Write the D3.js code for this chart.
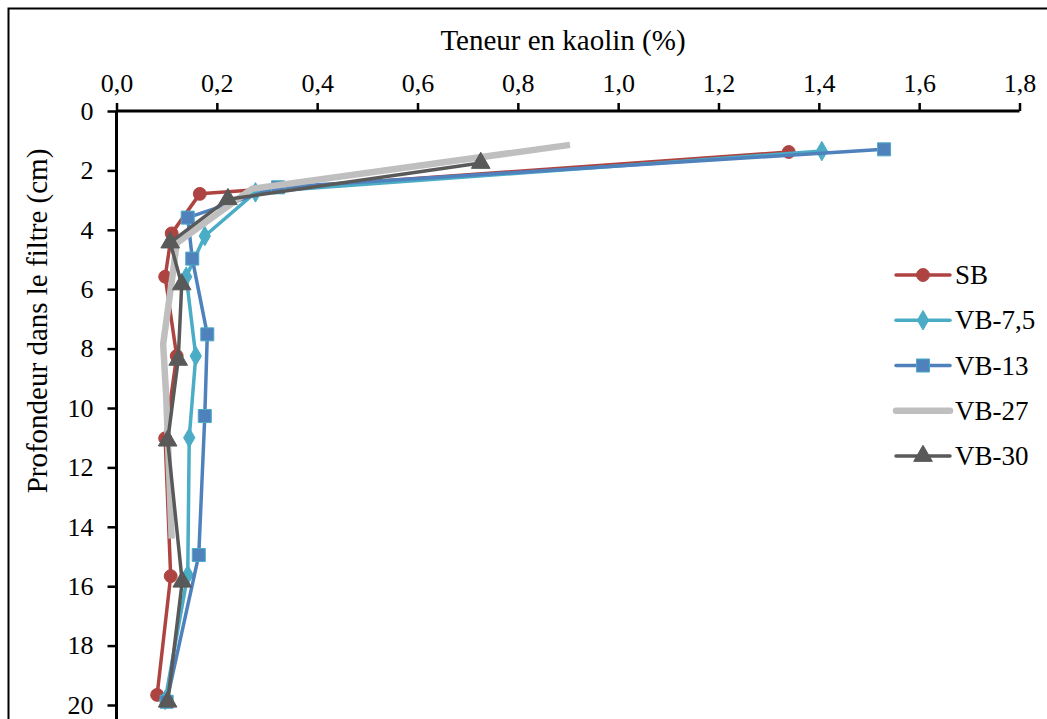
<!DOCTYPE html>
<html><head><meta charset="utf-8">
<script src="https://cdn.jsdelivr.net/npm/d3@7"></script>
<style>body{margin:0;background:#fff}svg{display:block}
svg#c text.ser{font-family:'Liberation Serif',serif !important;fill:#000}
</style>
</head><body><svg id="c" width="1047" height="719"></svg>
<script>
const xTicks = [0, 0.2, 0.4, 0.6, 0.8, 1.0, 1.2, 1.4, 1.6, 1.8];
const yTicks = [0, 2, 4, 6, 8, 10, 12, 14, 16, 18, 20];
const seriesNames = ["SB", "VB-7,5", "VB-13", "VB-27", "VB-30"];
const depthSB = [1.38, 2.79, 4.12, 5.58, 8.25, 11.02, 15.66, 19.66];
const kaolinSB = [1.340, 0.166, 0.110, 0.097, 0.120, 0.097, 0.108, 0.081];
const depthVB75 = [1.35, 2.74, 4.21, 5.58, 8.25, 11.0, 15.62, 19.83];
const kaolinVB75 = [1.406, 0.277, 0.176, 0.139, 0.158, 0.145, 0.142, 0.097];
const depthVB13 = [1.29, 2.57, 3.59, 4.97, 7.52, 10.27, 14.95, 19.89];
const kaolinVB13 = [1.530, 0.322, 0.142, 0.151, 0.181, 0.176, 0.164, 0.100];
const depthVB27 = [1.14, 2.62, 4.45, 5.5, 7.85, 9.58, 14.4];
const kaolinVB27 = [0.904, 0.27, 0.12, 0.112, 0.093, 0.099, 0.110];
const depthVB30 = [1.75, 2.97, 4.43, 5.84, 8.38, 11.1, 15.85, 19.89];
const kaolinVB30 = [0.726, 0.222, 0.107, 0.130, 0.123, 0.102, 0.131, 0.102];

const colors = ["#AE4441", "#4BACC6", "#4F81BD", "#BFBFBF", "#595959"];
const widths = [3.5, 3.5, 3.5, 6.5, 3.5];
const markers = ["circle", "diamond", "square", null, "triangle"];
const data = [
  d3.zip(kaolinSB, depthSB), d3.zip(kaolinVB75, depthVB75), d3.zip(kaolinVB13, depthVB13),
  d3.zip(kaolinVB27, depthVB27), d3.zip(kaolinVB30, depthVB30)
];

const svg = d3.select("#c");
svg.append("rect").attr("x", 8.5).attr("y", 8.5).attr("width", 1045).attr("height", 720)
  .attr("fill", "none").attr("stroke", "#000").attr("stroke-width", 2);

const x = d3.scaleLinear().domain([0, 1.8]).range([116.5, 1019.5]);
const y = d3.scaleLinear().domain([0, 20]).range([111, 705]);
const fmt = d => d3.format(".1f")(d).replace(".", ",");

const xa = svg.append("g").attr("transform", "translate(0,111)")
  .call(d3.axisTop(x).tickValues(xTicks).tickFormat(fmt).tickSize(8).tickPadding(11));
const ya = svg.append("g").attr("transform", "translate(116.5,0)")
  .call(d3.axisLeft(y).tickValues(yTicks).tickFormat(d3.format("d")).tickSize(9).tickPadding(14));
[xa, ya].forEach(a => {
  a.attr("font-family", null).attr("font-size", null);
  a.select(".domain").attr("stroke-width", 3);
  a.selectAll(".tick line").attr("stroke-width", 2.5);
  a.selectAll("text").attr("class", "ser").attr("fill", "#000").attr("font-size", 26);
});
ya.select(".domain").attr("d", "M0,111V720");
xa.select(".domain").attr("d", "M116.5,0H1019.5");

svg.append("text").attr("class", "ser").attr("x", 563).attr("y", 50).attr("text-anchor", "middle")
  .attr("font-size", 29).text("Teneur en kaolin (%)");
svg.append("text").attr("class", "ser").attr("transform", "translate(47,321) rotate(-90)").attr("text-anchor", "middle")
  .attr("font-size", 29).text("Profondeur dans le filtre (cm)");

const symType = {circle: d3.symbolCircle, diamond: d3.symbolDiamond, square: d3.symbolSquare, triangle: d3.symbolTriangle};
const symSize = {circle: 130, diamond: 110, square: 170, triangle: 150};
function drawMarker(g, m, i, cx, cy) {
  g.append("path").attr("d", d3.symbol().type(symType[m]).size(symSize[m])())
    .attr("transform", `translate(${cx},${cy})`)
    .attr("fill", colors[i]).attr("stroke", m === "square" ? "#4BACC6" : colors[i]).attr("stroke-width", 1);
}
const line = d3.line().x(d => x(d[0])).y(d => y(d[1]));
data.forEach((pts, i) => {
  const g = svg.append("g");
  g.append("path").attr("d", line(pts)).attr("fill", "none").attr("stroke", colors[i])
    .attr("stroke-width", widths[i]).attr("stroke-linejoin", "round").attr("stroke-linecap", i === 3 ? "butt" : "round");
  if (markers[i]) pts.forEach(p => drawMarker(g, markers[i], i, x(p[0]), y(p[1])));
});

// legend
const legY = d3.scaleLinear().domain([0, 4]).range([275, 456]);
seriesNames.forEach((name, i) => {
  const g = svg.append("g");
  const yy = legY(i);
  g.append("line").attr("x1", 896).attr("x2", 950).attr("y1", yy).attr("y2", yy)
    .attr("stroke", colors[i]).attr("stroke-width", widths[i]).attr("stroke-linecap", "round");
  if (markers[i]) drawMarker(g, markers[i], i, 923, yy);
  g.append("text").attr("class", "ser").attr("x", 955).attr("y", yy + 9).attr("font-size", 27).text(name);
});
function forceFont() {
  document.querySelectorAll("#c text").forEach(t => t.style.setProperty("font-family", "'Liberation Serif', serif", "important"));
}
forceFont();
setTimeout(forceFont, 0);
requestAnimationFrame(forceFont);
</script></body></html>
